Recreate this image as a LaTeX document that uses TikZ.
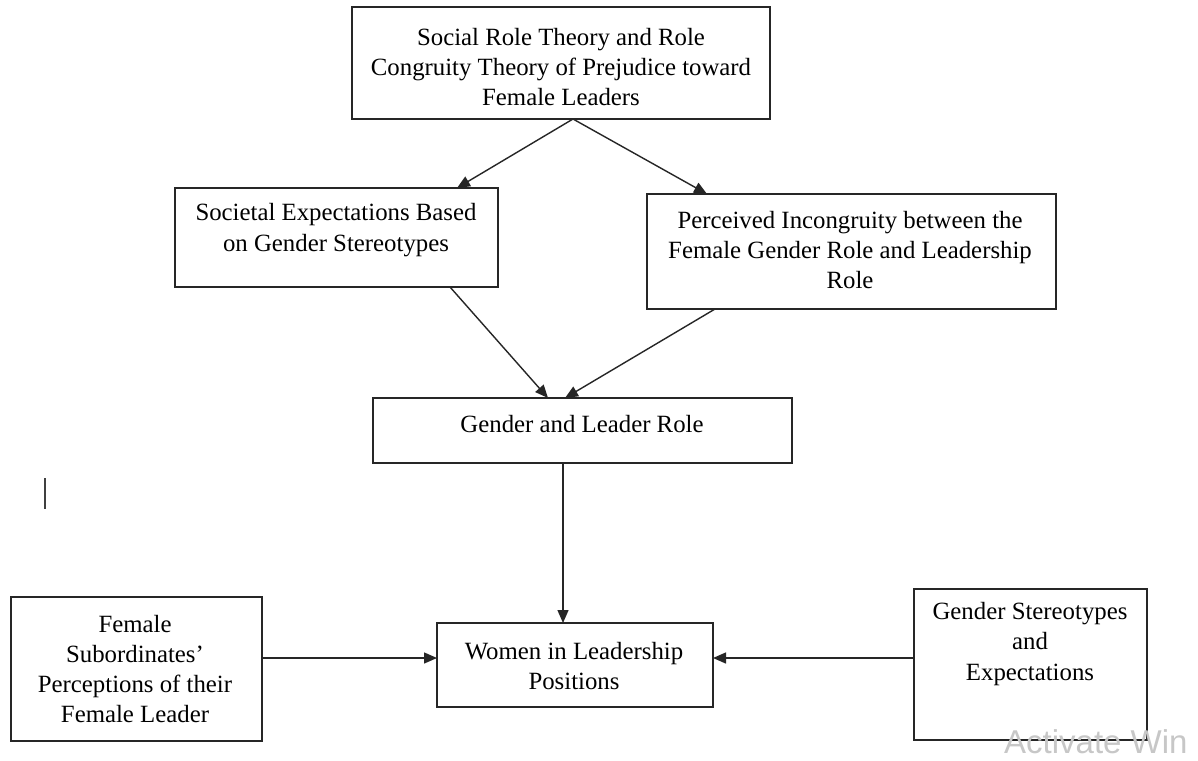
\documentclass[tikz,border=0pt]{standalone}
\usepackage{fontspec}
\setmainfont{Liberation Serif}
\newfontfamily\wmfont{Liberation Sans}
\usetikzlibrary{arrows.meta}
\begin{document}
\begin{tikzpicture}[x=1pt,y=-1pt,
  boxshape/.style={draw=black!85,line width=1.4pt,rectangle,inner sep=0pt},
  txt/.style={align=center,inner sep=0pt,font=\fontsize{24.8}{30.3}\selectfont},
  conn/.style={draw=black!85,line width=1.4pt,-{Triangle[length=13pt,width=11pt]}}]
\useasboundingbox (0,0) rectangle (1198,760);
\fill[white] (0,0) rectangle (1198,760);
% boxes
\node[boxshape,minimum width=418pt,minimum height=112pt] (top) at (561,63) {};
\node[boxshape,minimum width=323pt,minimum height=99pt] (lft) at (336.5,237.5) {};
\node[boxshape,minimum width=409pt,minimum height=115pt] (rgt) at (851.5,251.5) {};
\node[boxshape,minimum width=419pt,minimum height=65pt] (mid) at (582.5,430.5) {};
\node[boxshape,minimum width=276pt,minimum height=84pt] (ctr) at (575,665) {};
\node[boxshape,minimum width=251pt,minimum height=144pt] (bl) at (136.5,669) {};
\node[boxshape,minimum width=233pt,minimum height=151pt] (br) at (1030.5,664.5) {};
% texts
\node[txt] (ttop) at (561,67) {Social Role Theory and Role\\Congruity Theory of Prejudice toward\\Female Leaders};
\node[txt] (tlft) at (336,230) {Societal Expectations Based\\on Gender Stereotypes};
\node[txt] (trgt) at (850,250) {Perceived Incongruity between the\\Female Gender Role and Leadership\\Role};
\node[txt] (tmid) at (582,424) {Gender and Leader Role};
\node[txt] (tctr) at (574,666) {Women in Leadership\\Positions};
\node[txt] (tbl) at (135,669) {Female\\Subordinates'\\Perceptions of their\\Female Leader};
\node[txt] (tbr) at (1030,644) {Gender Stereotypes\\and\\Expectations};
% connector anchors
\coordinate (topS) at (573,119);
\coordinate (lftN) at (457,188);
\coordinate (rgtN) at (707,194);
\coordinate (lftS) at (450,287);
\coordinate (rgtS) at (715,309);
\coordinate (midNl) at (548,398);
\coordinate (midNr) at (565,398);
\coordinate (midS) at (563,463);
\coordinate (ctrN) at (563,623);
\coordinate (blE) at (262,658);
\coordinate (ctrW) at (437,658);
\coordinate (brW) at (914,658);
\coordinate (ctrE) at (713,658);
% connectors
\draw[conn] (topS) -- (lftN);
\draw[conn] (topS) -- (rgtN);
\draw[conn] (lftS) -- (midNl);
\draw[conn] (rgtS) -- (midNr);
\draw[conn] (midS) -- (ctrN);
\draw[conn] (blE) -- (ctrW);
\draw[conn] (brW) -- (ctrE);
% text cursor
\coordinate (curA) at (45,478);
\coordinate (curB) at (45,509);
\draw[black!75,line width=2pt] (curA) -- (curB);
% watermark
\node[anchor=base west,inner sep=0pt,text=black!22,font=\wmfont\fontsize{33}{34}\selectfont] (wm) at (1004,753) {Activate Win};
\end{tikzpicture}
\end{document}
